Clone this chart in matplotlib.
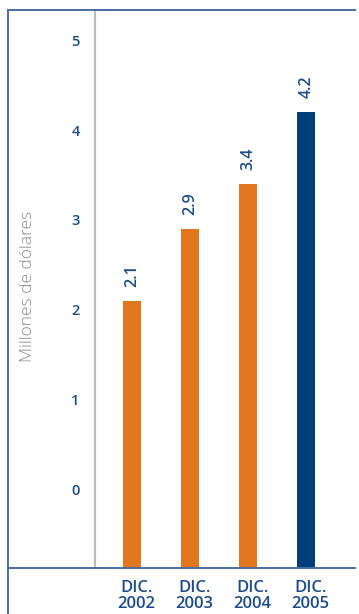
import numpy as np
import matplotlib.pyplot as plt
from matplotlib.lines import Line2D

# ==============================
# DATA
# ==============================
periods = ["DIC.\n2002", "DIC.\n2003", "DIC.\n2004", "DIC.\n2005"]
values = [2.1, 2.9, 3.4, 4.2]
value_labels = ["2.1", "2.9", "3.4", "4.2"]
y_ticks = [0, 1, 2, 3, 4, 5]
y_label = "Millones de dólares"

# ==============================
# STYLE
# ==============================
ORANGE = "#e1761e"
NAVY = "#003e7c"
TEXT_BLUE = "#1d4b8a"
FRAME_BLUE = "#4a6ea3"
GREY_LINE = "#b8bcc0"
LABEL_GREY = "#8a8a8a"

Y_MIN, Y_MAX = -0.88, 5.34

plt.rcParams["font.family"] = ["Open Sans", "DejaVu Sans"]


def main():
    fig = plt.figure(figsize=(3.59, 6.14), dpi=100)
    ax = fig.add_axes([95 / 359, 1 - 568 / 614, 260 / 359, 558 / 614])

    x = np.arange(len(values))
    colors = [ORANGE] * (len(values) - 1) + [NAVY]
    heights = [v - Y_MIN for v in values]
    ax.bar(x, heights, bottom=Y_MIN, width=0.31, color=colors, zorder=2)

    # value labels, rotated, above each bar
    for xi, v, lab in zip(x, values, value_labels):
        ax.annotate(lab, (xi, v), xytext=(0.5, 10), textcoords="offset points",
                    rotation=90, ha="center", va="bottom",
                    color=TEXT_BLUE, fontsize=11.5, fontweight="semibold")

    ax.set_xlim(-0.638, 3.845)
    ax.set_ylim(Y_MIN, Y_MAX)

    ax.set_yticks(y_ticks)
    ax.set_yticklabels([str(t) for t in y_ticks], color=TEXT_BLUE,
                       fontsize=10.5, fontweight="semibold")
    ax.tick_params(axis="y", length=0, pad=11)

    ax.set_xticks(x + 0.08)
    ax.set_xticklabels(periods, color=TEXT_BLUE, fontsize=12,
                       fontweight="semibold", linespacing=0.95)
    ax.tick_params(axis="x", length=0, pad=9)

    ax.spines["right"].set_visible(False)
    ax.spines["left"].set_color(GREY_LINE)
    ax.spines["left"].set_linewidth(1.6)
    for side in ("top", "bottom"):
        ax.spines[side].set_color(FRAME_BLUE)
        ax.spines[side].set_linewidth(1.4)

    # outer frame: left rule and top/bottom rules extended to the edge
    fig.add_artist(Line2D([8 / 359, 8 / 359], [0, 1 - 10 / 614],
                          color=FRAME_BLUE, lw=1.4))
    fig.add_artist(Line2D([8 / 359, 95 / 359], [1 - 10 / 614, 1 - 10 / 614],
                          color=FRAME_BLUE, lw=1.4))
    fig.add_artist(Line2D([8 / 359, 95 / 359], [1 - 568 / 614, 1 - 568 / 614],
                          color=FRAME_BLUE, lw=1.4))

    fig.text(28 / 359, 1 - 286 / 614, y_label, rotation=90, ha="center",
             va="center", color=LABEL_GREY, fontsize=12.5, fontweight="light")

    fig.savefig("out.png", dpi=100)
    plt.close(fig)


if __name__ == "__main__":
    main()
